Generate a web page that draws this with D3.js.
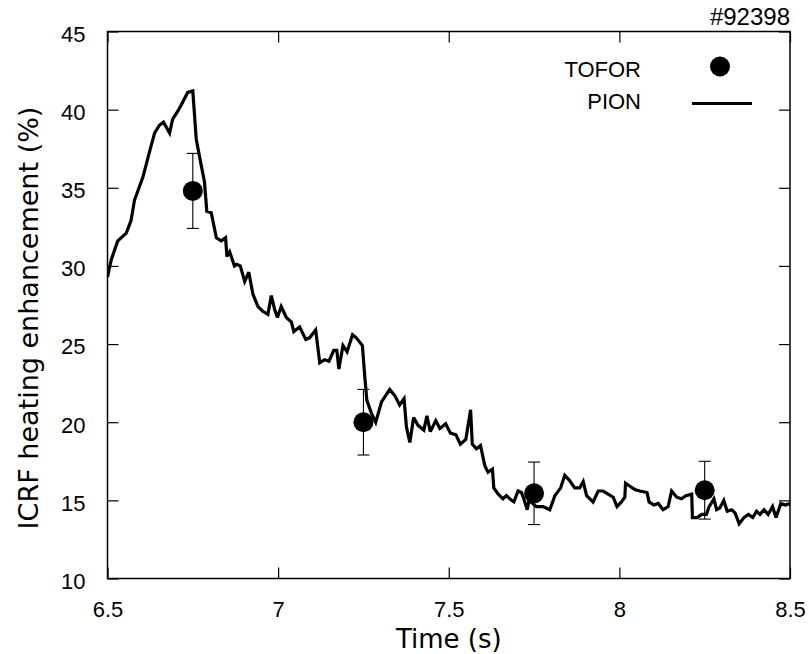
<!DOCTYPE html>
<html>
<head>
<meta charset="utf-8">
<script src="https://cdn.jsdelivr.net/npm/d3@7"></script>
<style>
  html, body { margin: 0; padding: 0; background: #fff; }
  svg { display: block; }
</style>
</head>
<body>
<svg id="chart" width="809" height="654"></svg>
<script>
// PION simulation: ICRF heating enhancement (%) vs time (s)
const pionTime = [
  6.500, 6.511, 6.530, 6.555, 6.569, 6.579, 6.604, 6.623, 6.638, 6.652,
  6.664, 6.682, 6.691, 6.706, 6.716, 6.735, 6.750, 6.760, 6.775, 6.784,
  6.791, 6.804, 6.819, 6.833, 6.846, 6.850, 6.858, 6.872, 6.879, 6.889,
  6.902, 6.914, 6.926, 6.941, 6.955, 6.970, 6.980, 6.990, 6.998, 7.009,
  7.024, 7.039, 7.046, 7.063, 7.081, 7.092, 7.110, 7.122, 7.136, 7.149,
  7.163, 7.172, 7.178, 7.190, 7.202, 7.218, 7.229, 7.247, 7.254, 7.260,
  7.273, 7.286, 7.303, 7.327, 7.342, 7.356, 7.369, 7.376, 7.386, 7.397,
  7.410, 7.427, 7.436, 7.446, 7.462, 7.474, 7.491, 7.505, 7.521, 7.534,
  7.550, 7.564, 7.569, 7.581, 7.593, 7.606, 7.615, 7.628, 7.632, 7.645,
  7.659, 7.669, 7.684, 7.691, 7.703, 7.713, 7.720, 7.730, 7.735, 7.757,
  7.776, 7.796, 7.811, 7.828, 7.840, 7.853, 7.869, 7.884, 7.894, 7.904,
  7.923, 7.938, 7.952, 7.967, 7.982, 7.993, 8.006, 8.016, 8.018, 8.031,
  8.045, 8.060, 8.081, 8.087, 8.101, 8.114, 8.128, 8.143, 8.153, 8.168,
  8.182, 8.195, 8.212, 8.214, 8.228, 8.241, 8.255, 8.263, 8.277, 8.285,
  8.294, 8.306, 8.316, 8.329, 8.339, 8.351, 8.365, 8.378, 8.391, 8.402,
  8.412, 8.424, 8.436, 8.449, 8.459, 8.473, 8.486, 8.500
];
const pionValue = [
  29.3, 30.4, 31.6, 32.1, 32.9, 34.2, 35.7, 37.3, 38.5, 39.0,
  39.2, 38.5, 39.4, 39.9, 40.3, 41.1, 41.2, 38.1, 36.4, 35.4,
  33.5, 33.4, 31.8, 31.6, 31.8, 30.6, 30.9, 30.0, 30.1, 30.0,
  29.0, 29.6, 28.2, 27.4, 27.1, 26.9, 28.1, 27.2, 26.7, 27.4,
  26.7, 26.4, 25.8, 26.1, 25.3, 25.4, 25.9, 23.8, 24.0, 23.9,
  24.6, 24.6, 23.4, 24.9, 24.5, 25.6, 25.4, 24.9, 22.9, 21.4,
  20.6, 20.0, 21.3, 22.1, 21.7, 21.1, 21.5, 19.7, 18.7, 20.3,
  19.8, 19.5, 20.4, 19.4, 20.1, 19.6, 19.9, 19.3, 19.2, 18.6,
  18.9, 20.8, 18.6, 18.3, 18.5, 17.2, 16.8, 17.0, 15.8, 15.4,
  15.1, 15.3, 15.0, 14.9, 15.6, 15.5, 15.1, 14.4, 15.0, 14.6,
  14.6, 14.4, 15.3, 15.8, 16.6, 16.3, 15.8, 15.8, 16.2, 15.3,
  14.9, 15.6, 15.6, 15.4, 15.2, 14.6, 14.9, 15.2, 16.1, 15.9,
  15.7, 15.6, 15.5, 14.9, 14.7, 14.8, 14.4, 14.6, 15.6, 15.2,
  15.1, 15.3, 15.4, 13.9, 13.9, 14.1, 14.1, 14.6, 15.1, 14.4,
  14.5, 15.0, 14.3, 14.4, 14.2, 13.5, 13.9, 14.1, 13.9, 14.3,
  14.1, 14.4, 14.1, 14.6, 13.9, 14.8, 14.7, 14.8
];

// TOFOR measurements with error bars
const toforTime  = [6.75, 7.25, 7.75, 8.25];
const toforValue = [34.8, 20.0, 15.45, 15.65];
const toforError = [2.4, 2.1, 2.0, 1.85];

// Axis ticks
const xTicks = [6.5, 7, 7.5, 8, 8.5];
const xTickLabels = ["6.5", "7", "7.5", "8", "8.5"];
const yTicks = [10, 15, 20, 25, 30, 35, 40, 45];

const svg = d3.select("#chart");
const plotLeft = 107.5, plotRight = 790, plotTop = 31.5, plotBottom = 578.5;
const x = d3.scaleLinear().domain([6.5, 8.5]).range([plotLeft, plotRight]);
const y = d3.scaleLinear().domain([10, 45]).range([plotBottom, plotTop]);

const numFont = "'Liberation Sans', Arial, sans-serif";
const titleFont = "'DejaVu Sans', Verdana, sans-serif";
const tickLen = 11;

// clip for the curve
svg.append("defs").append("clipPath").attr("id", "plotClip")
  .append("rect").attr("x", plotLeft).attr("y", plotTop)
  .attr("width", plotRight - plotLeft).attr("height", plotBottom - plotTop);

// Axes: ticks pointing inward on all four sides
const axB = d3.axisBottom(x).tickValues(xTicks).tickSize(-tickLen).tickSizeOuter(0)
  .tickFormat((d, i) => xTickLabels[i]).tickPadding(38);
const axT = d3.axisTop(x).tickValues(xTicks).tickSize(-tickLen).tickSizeOuter(0).tickFormat("");
const axL = d3.axisLeft(y).tickValues(yTicks).tickSize(-tickLen).tickSizeOuter(0)
  .tickFormat(d3.format("d")).tickPadding(22);
const axR = d3.axisRight(y).tickValues(yTicks).tickSize(-tickLen).tickSizeOuter(0).tickFormat("");

function styleAxis(g) {
  g.select(".domain").remove();
  g.selectAll(".tick line").attr("stroke", "#000").attr("stroke-width", 1.2);
  g.selectAll(".tick text").attr("fill", "#000")
    .style("font-family", numFont).style("font-size", "22px");
}

svg.append("g").attr("transform", `translate(0,${plotBottom})`).call(axB).call(styleAxis)
  .selectAll(".tick text").attr("dy", "0");
svg.append("g").attr("transform", `translate(0,${plotTop})`).call(axT).call(styleAxis);
svg.append("g").attr("transform", `translate(${plotLeft},0)`).call(axL).call(styleAxis)
  .selectAll(".tick text").attr("dy", "0.45em");
svg.append("g").attr("transform", `translate(${plotRight},0)`).call(axR).call(styleAxis);

// frame
svg.append("rect")
  .attr("x", plotLeft).attr("y", plotTop)
  .attr("width", plotRight - plotLeft).attr("height", plotBottom - plotTop)
  .attr("fill", "none").attr("stroke", "#000").attr("stroke-width", 1.5);

// PION curve
const line = d3.line()
  .x((d, i) => x(pionTime[i]))
  .y(d => y(d));
svg.append("path")
  .datum(pionValue)
  .attr("clip-path", "url(#plotClip)")
  .attr("d", line)
  .attr("fill", "none")
  .attr("stroke", "#000")
  .attr("stroke-width", 3.2)
  .attr("stroke-linejoin", "miter")
  .attr("stroke-miterlimit", 3);

// TOFOR error bars and markers
const tofor = toforTime.map((t, i) => ({ t, v: toforValue[i], e: toforError[i] }));
const eb = svg.append("g").attr("stroke", "#000").attr("stroke-width", 1.1);
const cap = 6;
tofor.forEach(d => {
  eb.append("line").attr("x1", x(d.t)).attr("x2", x(d.t))
    .attr("y1", y(d.v - d.e)).attr("y2", y(d.v + d.e));
  eb.append("line").attr("x1", x(d.t) - cap).attr("x2", x(d.t) + cap)
    .attr("y1", y(d.v + d.e)).attr("y2", y(d.v + d.e));
  eb.append("line").attr("x1", x(d.t) - cap).attr("x2", x(d.t) + cap)
    .attr("y1", y(d.v - d.e)).attr("y2", y(d.v - d.e));
});
svg.append("g").selectAll("circle").data(tofor).join("circle")
  .attr("cx", d => x(d.t)).attr("cy", d => y(d.v)).attr("r", 10)
  .attr("fill", "#000");

// Legend
const lg = svg.append("g").style("font-family", numFont).style("font-size", "22px");
lg.append("text").attr("x", 641).attr("y", 77).attr("text-anchor", "end").text("TOFOR");
lg.append("circle").attr("cx", 720).attr("cy", 66.5).attr("r", 10).attr("fill", "#000");
lg.append("text").attr("x", 641).attr("y", 109).attr("text-anchor", "end").text("PION");
lg.append("line").attr("x1", 692).attr("x2", 752).attr("y1", 103.5).attr("y2", 103.5)
  .attr("stroke", "#000").attr("stroke-width", 3.2);

// Shot number
svg.append("text").attr("x", 790).attr("y", 25).attr("text-anchor", "end")
  .style("font-family", numFont).style("font-size", "24px").text("#92398");

// Axis titles
svg.append("text").attr("x", (plotLeft + plotRight) / 2).attr("y", 648)
  .attr("text-anchor", "middle")
  .style("font-family", titleFont).style("font-size", "26px")
  .text("Time (s)");
svg.append("text")
  .attr("transform", `translate(38,318) rotate(-90)`)
  .attr("text-anchor", "middle")
  .style("font-family", titleFont).style("font-size", "27px")
  .text("ICRF heating enhancement (%)");
</script>
</body>
</html>
